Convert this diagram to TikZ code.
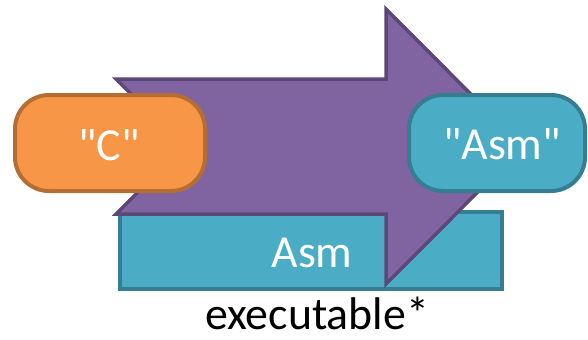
\documentclass[tikz,border=0pt]{standalone}
\usepackage{fontspec}
\setmainfont{Carlito}[Ligatures=TeXOff]
\definecolor{orfill}{HTML}{F79646}
\definecolor{ordraw}{HTML}{B66D31}
\definecolor{pufill}{HTML}{8064A2}
\definecolor{pudraw}{HTML}{5C4776}
\definecolor{tefill}{HTML}{4BACC6}
\definecolor{tedraw}{HTML}{357D91}
\tikzset{
  lbl/.style={anchor=base, inner sep=0pt, font=\fontsize{46}{54}\selectfont},
  wlbl/.style={lbl, text=white},
  pill/.style={line width=4bp, rounded corners=34bp},
}
\begin{document}
\begin{tikzpicture}[x=1bp, y=-1bp]
\useasboundingbox (0,0) rectangle (588,339);
% executable rectangle
\draw[fill=tefill, draw=tedraw, line width=4bp] (120,212) rectangle (502,289);
% big arrow
\draw[fill=pufill, draw=pudraw, line width=3.5bp, line join=miter]
  (116,79) -- (386,79) -- (386,9) -- (523,146.5) -- (386,284) -- (386,214)
  -- (116,214) -- (183.5,146.5) -- cycle;
% pills
\draw[pill, fill=orfill, draw=ordraw] (15,95) rectangle (205,191);
\draw[pill, fill=tefill, draw=tedraw] (409,95) rectangle (585,191);
% texts
\node[wlbl] (c) at (109,160) {"C"};
\node[wlbl] (asmq) at (502,159) {"Asm"};
\node[wlbl] (asm) at (312,267) {Asm};
\node[lbl] (exe) at (317,329) {executable*};
\end{tikzpicture}
\end{document}
